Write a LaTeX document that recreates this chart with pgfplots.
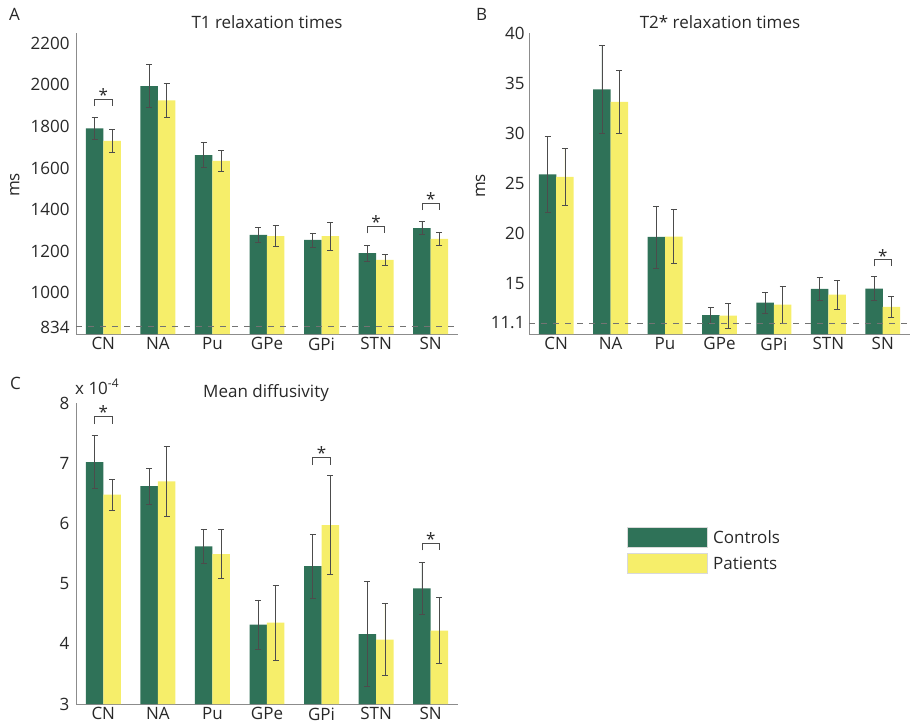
\documentclass[border=0pt]{standalone}
\usepackage{pgfplots}
\pgfplotsset{compat=1.18}
\usepackage{pgfplotstable}
\usepackage{fontspec}
\setmainfont{Open Sans}
\definecolor{ctrl}{RGB}{47,114,88}
\definecolor{pat}{RGB}{246,238,106}
\definecolor{axgray}{RGB}{140,140,140}
\definecolor{txt}{RGB}{40,40,40}
\newcommand\fs{\fontsize{17}{20}\selectfont}

\pgfplotstableread{
x c ce p pe
1 1790 53 1730 56
2 1994 103 1925 82
3 1662 60 1634 49
4 1278 35 1272 52
5 1253 34 1272 67
6 1190 38 1157 28
7 1310 32 1258 30
}\tA
\pgfplotstableread{
x c ce p pe
1 25.90 3.75 25.67 2.85
2 34.37 4.40 33.13 3.15
3 19.67 3.10 19.70 2.70
4 11.87 0.80 11.83 1.23
5 13.13 1.05 12.93 1.85
6 14.50 1.12 13.93 1.43
7 14.53 1.22 12.70 1.08
}\tB
\pgfplotstableread{
x c ce p pe
1 7.02 0.44 6.48 0.26
2 6.62 0.30 6.70 0.58
3 5.62 0.28 5.49 0.41
4 4.32 0.41 4.35 0.62
5 5.29 0.53 5.97 0.82
6 4.16 0.87 4.07 0.60
7 4.92 0.43 4.22 0.55
}\tC

\tikzset{star/.style={font=\fs, text=txt, anchor=base, yshift=-9pt, inner sep=0pt}}
\pgfplotsset{
  panel/.style={
    scale only axis, height=301pt,
    anchor=south west,
    xmin=0.5, xmax=7.5,
    axis x line=bottom, axis y line=left,
    axis line style={-, draw=axgray, line width=1pt},
    major tick length=0pt,
    xtick={1,...,7}, xticklabels={CN,NA,Pu,GPe,GPi,STN,SN},
    ticklabel style={font=\fs, text=txt},
  },
  ebar/.style={error bars/.cd, y dir=both, y explicit,
    error bar style={draw=black!70, line width=0.7pt},
    error mark options={draw=black!70, line width=0.7pt, mark size=3pt, rotate=90}},
  cbar/.style={ybar, bar width=17.5pt, bar shift=0pt, fill=ctrl, draw=none, ebar},
  pbar/.style={ybar, bar width=17.5pt, bar shift=0pt, fill=pat, draw=none, ebar},
  brk/.style={sharp plot, draw=black!70, line width=0.8pt, mark=none},
  dline/.style={sharp plot, draw=black!55, line width=0.9pt, dash pattern=on 6pt off 6pt, mark=none},
}

\begin{document}
\begin{tikzpicture}[font=\fs, text=txt]
\path[use as bounding box] (0pt,0pt) rectangle (914pt,-725pt);

% Panel A
\begin{axis}[panel, width=382pt, at={(76pt,-334pt)},
  ymin=800, ymax=2250,
  ytick={834,1000,1200,1400,1600,1800,2000,2200},
  yticklabels={834,1000,1200,1400,1600,1800,2000,2200},
  yticklabel style={xshift=-3pt}]
\addplot[cbar] table[x expr=\thisrow{x}-0.16, y=c, y error=ce] {\tA};
\addplot[pbar] table[x expr=\thisrow{x}+0.16, y=p, y error=pe] {\tA};
\addplot[dline] coordinates {(0.5,834) (7.5,834)};
\addplot[brk] coordinates {(0.84,1898) (0.84,1930) (1.16,1930) (1.16,1898)};
\addplot[brk] coordinates {(5.84,1285) (5.84,1317) (6.16,1317) (6.16,1285)};
\addplot[brk] coordinates {(6.84,1397) (6.84,1430) (7.16,1430) (7.16,1397)};
\node[star] at (axis cs:1,1961) {*};
\node[star] at (axis cs:6,1350) {*};
\node[star] at (axis cs:7,1462) {*};
\end{axis}

% Panel B
\begin{axis}[panel, width=381pt, at={(529pt,-334pt)},
  ymin=10, ymax=40,
  ytick={11.1,15,20,25,30,35,40},
  yticklabels={11.1,15,20,25,30,35,40},
  yticklabel style={xshift=-1pt}]
\addplot[cbar] table[x expr=\thisrow{x}-0.16, y=c, y error=ce] {\tB};
\addplot[pbar] table[x expr=\thisrow{x}+0.16, y=p, y error=pe] {\tB};
\addplot[dline] coordinates {(0.5,11.1) (7.5,11.1)};
\addplot[brk] coordinates {(6.84,16.73) (6.84,17.4) (7.16,17.4) (7.16,16.73)};
\node[star] at (axis cs:7,18.07) {*};
\end{axis}

% Panel C
\begin{axis}[panel, width=382pt, at={(76pt,-704pt)},
  ymin=3, ymax=8,
  ytick={3,4,5,6,7,8},
  yticklabels={3,4,5,6,7,8},
  yticklabel style={xshift=-3pt}]
\addplot[cbar] table[x expr=\thisrow{x}-0.16, y=c, y error=ce] {\tC};
\addplot[pbar] table[x expr=\thisrow{x}+0.16, y=p, y error=pe] {\tC};
\addplot[brk] coordinates {(0.84,7.65) (0.84,7.77) (1.16,7.77) (1.16,7.65)};
\addplot[brk] coordinates {(4.84,6.97) (4.84,7.09) (5.16,7.09) (5.16,6.97)};
\addplot[brk] coordinates {(6.84,5.55) (6.84,5.66) (7.16,5.66) (7.16,5.55)};
\node[star] at (axis cs:1,7.89) {*};
\node[star] at (axis cs:5,7.21) {*};
\node[star] at (axis cs:7,5.79) {*};
\end{axis}

% Labels and titles
\node[anchor=base west, inner sep=0pt] at (9pt,-20.7pt) {A};
\node[anchor=base, inner sep=0pt] at (267pt,-29pt) {T1 relaxation times};
\node[anchor=base west, inner sep=0pt] at (476pt,-20.7pt) {B};
\node[anchor=base, inner sep=0pt] at (720pt,-29pt) {T2* relaxation times};
\node[anchor=base west, inner sep=0pt] at (10pt,-389pt) {C};
\node[anchor=base, inner sep=0pt] at (266pt,-397pt) {Mean diffusivity};
\node[anchor=base west, inner sep=0pt] at (75pt,-394pt) {x 10\textsuperscript{-4}};
\node[rotate=90, anchor=base, inner sep=0pt] at (19.3pt,-185pt) {ms};
\node[rotate=90, anchor=base, inner sep=0pt] at (485pt,-186pt) {ms};

% Legend
\fill[ctrl, draw=black!15, line width=0.5pt] (627pt,-527pt) rectangle (707pt,-547pt);
\fill[pat, draw=black!15, line width=0.5pt] (627pt,-553pt) rectangle (707pt,-573pt);
\node[anchor=west, inner sep=0pt] at (713pt,-537pt) {Controls};
\node[anchor=west, inner sep=0pt] at (713pt,-563pt) {Patients};
\end{tikzpicture}
\end{document}
